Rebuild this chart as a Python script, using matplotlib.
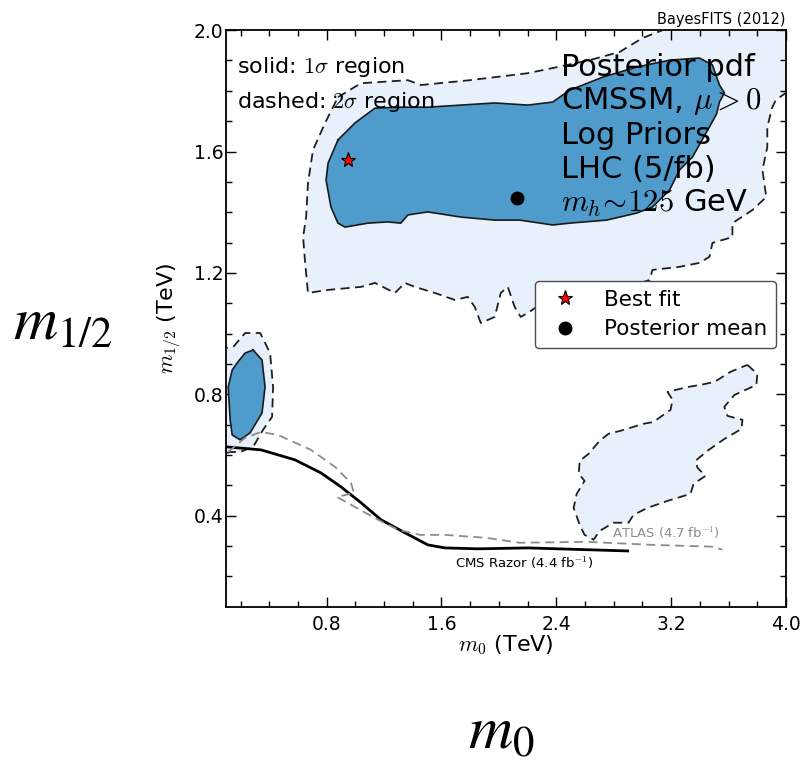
import matplotlib
matplotlib.use("Agg")
import matplotlib.pyplot as plt

plt.rcParams["mathtext.fontset"] = "cm"
plt.rcParams["font.family"] = ["DejaVu Sans"]

# contour outlines, (m0 [TeV], m1/2 [TeV])
main_2sig_x = [0.879, 1.039, 1.366, 1.457, 1.797, 2.201, 2.375, 2.632, 2.841, 3.001, 3.25,
               4.02, 4.02, 3.93, 3.905, 3.870, 3.870, 3.836, 3.863, 3.766, 3.627, 3.627,
               3.488, 3.467, 3.397, 3.258, 3.070, 3.050, 2.841, 2.493, 2.284, 2.201, 2.152,
               2.110, 2.062, 2.013, 1.971, 1.874, 1.832, 1.783, 1.693, 1.554, 1.415, 1.345,
               1.276, 1.137, 1.039, 0.810, 0.670, 0.650, 0.636, 0.657, 0.670, 0.705, 0.789]
main_2sig_y = [1.779, 1.825, 1.835, 1.819, 1.835, 1.858, 1.875, 1.901, 1.928, 1.974, 2.02,
               2.02, 1.80, 1.77, 1.746, 1.681, 1.615, 1.539, 1.450, 1.407, 1.364, 1.318,
               1.299, 1.253, 1.233, 1.220, 1.210, 1.177, 1.144, 1.111, 1.095, 1.068, 1.055,
               1.088, 1.154, 1.134, 1.055, 1.035, 1.088, 1.121, 1.111, 1.134, 1.154, 1.167,
               1.134, 1.167, 1.154, 1.144, 1.134, 1.233, 1.318, 1.384, 1.496, 1.605, 1.694]

main_1sig_x = [0.879, 0.997, 1.137, 1.317, 1.505, 1.735, 1.971, 2.201, 2.375, 2.493, 2.723,
               2.959, 3.189, 3.397, 3.488, 3.537, 3.571, 3.537, 3.516, 3.467, 3.349, 3.258,
               3.189, 3.070, 2.959, 2.750, 2.493, 2.375, 2.145, 1.971, 1.735, 1.505, 1.366,
               1.317, 1.227, 1.088, 0.928, 0.879, 0.830, 0.796, 0.810]
main_1sig_y = [1.638, 1.694, 1.743, 1.746, 1.746, 1.753, 1.760, 1.753, 1.763, 1.802, 1.845,
               1.878, 1.901, 1.908, 1.885, 1.819, 1.793, 1.763, 1.723, 1.681, 1.582, 1.539,
               1.473, 1.417, 1.397, 1.374, 1.364, 1.358, 1.374, 1.374, 1.384, 1.401, 1.391,
               1.364, 1.368, 1.364, 1.351, 1.364, 1.417, 1.506, 1.562]

left_2sig_x = [0.05, 0.149, 0.232, 0.337, 0.406, 0.427, 0.420, 0.357, 0.288, 0.197, 0.128, 0.05]
left_2sig_y = [0.95, 0.956, 1.002, 1.002, 0.936, 0.824, 0.726, 0.683, 0.627, 0.610, 0.610, 0.60]

left_1sig_x = [0.288, 0.350, 0.371, 0.350, 0.267, 0.197, 0.142, 0.128, 0.114, 0.142, 0.177, 0.232]
left_1sig_y = [0.946, 0.913, 0.824, 0.739, 0.673, 0.650, 0.666, 0.716, 0.824, 0.880, 0.904, 0.936]

island_x = [3.731, 3.801, 3.794, 3.641, 3.571, 3.592, 3.697, 3.690, 3.571, 3.453, 3.370,
            3.384, 3.439, 3.356, 3.335, 3.175, 3.036, 2.938, 2.903, 2.799, 2.702, 2.660,
            2.597, 2.563, 2.521, 2.542, 2.597, 2.556, 2.563, 2.625, 2.702, 2.764, 2.848,
            3.008, 3.077, 3.196, 3.210, 3.175, 3.314, 3.404, 3.502, 3.613]
island_y = [0.897, 0.867, 0.831, 0.798, 0.759, 0.729, 0.716, 0.686, 0.653, 0.614, 0.581,
            0.558, 0.531, 0.505, 0.472, 0.449, 0.426, 0.403, 0.377, 0.377, 0.350, 0.321,
            0.337, 0.370, 0.426, 0.472, 0.515, 0.538, 0.581, 0.604, 0.647, 0.670, 0.680,
            0.703, 0.709, 0.749, 0.782, 0.808, 0.824, 0.831, 0.841, 0.874]

# LHC exclusion limits
cms_x = [0.100, 0.343, 0.580, 0.761, 0.900, 1.039, 1.178, 1.345, 1.505, 1.623, 1.853, 2.201, 2.897]
cms_y = [0.627, 0.617, 0.584, 0.541, 0.495, 0.443, 0.387, 0.344, 0.304, 0.294, 0.291, 0.294, 0.284]

atlas_x = [0.114, 0.232, 0.343, 0.462, 0.691, 0.858, 0.970, 0.990, 0.872, 0.997, 1.157, 1.297,
           1.450, 1.623, 1.916, 2.145, 2.611, 3.070, 3.488, 3.557]
atlas_y = [0.610, 0.657, 0.676, 0.666, 0.617, 0.561, 0.508, 0.475, 0.462, 0.429, 0.387, 0.354,
           0.337, 0.337, 0.327, 0.311, 0.314, 0.304, 0.298, 0.288]

best_fit = (0.949, 1.572)
post_mean = (2.124, 1.447)

info_lines = ["Posterior pdf", r"CMSSM, $\mu>0$", "Log Priors", "LHC (5/fb)",
              r"$m_h\!\sim\!125$ GeV"]

LIGHT = "#e8f1fb"
DARK = "#4f9bcb"


def main():
    fig = plt.figure(figsize=(8.02, 7.72), dpi=100)
    ax = fig.add_axes([0.282, 0.214, 0.698, 0.747])

    dash = (0, (5, 3))
    for xs, ys in [(main_2sig_x, main_2sig_y), (left_2sig_x, left_2sig_y), (island_x, island_y)]:
        ax.fill(xs, ys, facecolor=LIGHT, edgecolor="none", zorder=1)
        ax.plot(xs + xs[:1], ys + ys[:1], color="0.12", lw=1.3, ls=dash, zorder=3)
    for xs, ys in [(main_1sig_x, main_1sig_y), (left_1sig_x, left_1sig_y)]:
        ax.fill(xs, ys, facecolor=DARK, edgecolor="none", zorder=2)
        ax.plot(xs + xs[:1], ys + ys[:1], color="0.1", lw=1.2, zorder=3)

    ax.plot(cms_x, cms_y, color="black", lw=2.0, zorder=4)
    ax.plot(atlas_x, atlas_y, color="0.55", lw=1.3, ls=dash, zorder=4)
    ax.text(1.693, 0.245, r"CMS Razor (4.4 fb$^{-1}$)", fontsize=9.5, va="center", zorder=5)
    ax.text(2.785, 0.344, r"ATLAS (4.7 fb$^{-1}$)", fontsize=9.5, color="0.55", va="center",
            zorder=5)

    ax.plot(*best_fit, marker="*", ms=11, mfc="red", mec="black", mew=0.8, ls="none",
            zorder=6, label="Best fit")
    ax.plot(*post_mean, marker="o", ms=9, color="black", ls="none", zorder=6,
            label="Posterior mean")

    ax.text(0.02, 0.936, r"solid: $1\sigma$ region", transform=ax.transAxes,
            fontsize=16, va="center", zorder=7)
    ax.text(0.02, 0.875, r"dashed: $2\sigma$ region", transform=ax.transAxes,
            fontsize=16, va="center", zorder=7)
    for i, line in enumerate(info_lines):
        ax.text(0.598, 0.936 - i * 0.059, line, transform=ax.transAxes,
                fontsize=22, va="center", zorder=7)

    leg = ax.legend(loc="upper right", bbox_to_anchor=(0.982, 0.565), numpoints=1,
                    fontsize=15.5, framealpha=1, edgecolor="0.3", fancybox=True,
                    borderpad=0.4, labelspacing=0.45, borderaxespad=0.0)
    leg.set_zorder(8)

    ax.set_xlim(0.1, 4.0)
    ax.set_ylim(0.1, 2.0)
    ax.set_xticks([0.8, 1.6, 2.4, 3.2, 4.0])
    ax.set_yticks([0.4, 0.8, 1.2, 1.6, 2.0])
    ax.set_xticks([0.2, 0.4, 0.6, 1.0, 1.2, 1.4, 1.8, 2.0, 2.2, 2.6, 2.8, 3.0, 3.4, 3.6, 3.8],
                  minor=True)
    ax.set_yticks([0.2, 0.3, 0.5, 0.6, 0.7, 0.9, 1.0, 1.1, 1.3, 1.4, 1.5, 1.7, 1.8, 1.9],
                  minor=True)
    ax.tick_params(which="both", direction="in", top=True, right=True, labelsize=13.5)
    ax.tick_params(axis="x", pad=6)
    ax.tick_params(axis="y", pad=2)
    ax.tick_params(which="major", length=7, width=1)
    ax.tick_params(which="minor", length=4, width=1)
    for s in ax.spines.values():
        s.set_linewidth(1.3)

    ax.set_xlabel(r"$m_0$ (TeV)", fontsize=16, labelpad=-1)
    ax.set_ylabel(r"$m_{1/2}$ (TeV)", fontsize=16, labelpad=8)
    ax.text(1.0, 1.006, "BayesFITS (2012)", transform=ax.transAxes, ha="right",
            va="bottom", fontsize=10.5)

    fig.text(0.078, 0.5596, r"$m_{1/2}$", fontsize=44, math_fontfamily="stix",
             ha="center", va="baseline")
    fig.text(0.625, 0.030, r"$m_0$", fontsize=44, math_fontfamily="stix",
             ha="center", va="baseline")

    fig.savefig("out.png", dpi=100)
    plt.close(fig)


if __name__ == "__main__":
    main()
